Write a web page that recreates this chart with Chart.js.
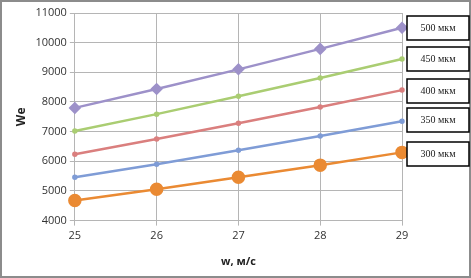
<!DOCTYPE html>
<html>
<head>
<meta charset="utf-8">
<script src="https://cdn.jsdelivr.net/npm/chart.js@4"></script>
<style>
  html, body { margin: 0; padding: 0; background: #fff; }
  #wrap { width: 471px; height: 278px; position: relative; }
</style>
</head>
<body>
<div id="wrap"><canvas id="chart"></canvas></div>
<script>
// скорость, м/с
const speeds = [25, 26, 27, 28, 29];
// We для разных диаметров
const we300 = [4680, 5060, 5460, 5870, 6300];
const we350 = [5460, 5900, 6370, 6850, 7350];
const we400 = [6240, 6750, 7280, 7830, 8400];
const we450 = [7020, 7590, 8190, 8810, 9450];
const we500 = [7800, 8440, 9100, 9790, 10500];
const seriesNames = ["300 мкм", "350 мкм", "400 мкм", "450 мкм", "500 мкм"];
const yTicks = [4000, 5000, 6000, 7000, 8000, 9000, 10000, 11000];

const COLORS = ["#ea8a33", "#7f9cd6", "#da7f7e", "#aacd72", "#9d91c9"];

// рамка вокруг всей диаграммы + подписи серий в прямоугольниках справа
const framePlugin = {
  id: "frame",
  afterDraw(chart) {
    const ctx = chart.ctx;
    ctx.save();
    ctx.strokeStyle = "#8c8c8c";
    ctx.lineWidth = 2;
    ctx.strokeRect(1, 1, chart.width - 2, chart.height - 2);

    const boxes = [
      { name: seriesNames[4], top: 16 },
      { name: seriesNames[3], top: 47 },
      { name: seriesNames[2], top: 79 },
      { name: seriesNames[1], top: 108 },
      { name: seriesNames[0], top: 142 }
    ];
    ctx.lineWidth = 1.5;
    ctx.strokeStyle = "#000";
    ctx.font = "10px 'Liberation Serif'";
    ctx.textAlign = "center";
    ctx.textBaseline = "middle";
    boxes.forEach(b => {
      ctx.fillStyle = "#fff";
      ctx.fillRect(407, b.top, 62, 24);
      ctx.strokeRect(407, b.top, 62, 24);
      ctx.fillStyle = "#222";
      ctx.fillText(b.name, 438, b.top + 12.5);
    });
    ctx.restore();
  }
};

function ds(label, data, color, style, radius, width) {
  return {
    label, data,
    borderColor: color, backgroundColor: color,
    pointStyle: style, pointRadius: radius, pointHoverRadius: radius,
    borderWidth: width, tension: 0
  };
}

new Chart(document.getElementById("chart"), {
  type: "line",
  data: {
    labels: speeds,
    datasets: [
      ds(seriesNames[4], we500, COLORS[4], "rectRot", 4.5, 2.5),
      ds(seriesNames[3], we450, COLORS[3], "circle", 1.5, 2.5),
      ds(seriesNames[2], we400, COLORS[2], "circle", 1.5, 2.5),
      ds(seriesNames[1], we350, COLORS[1], "circle", 1.5, 2.5),
      ds(seriesNames[0], we300, COLORS[0], "circle", 5.5, 2.5)
    ]
  },
  options: {
    responsive: true,
    maintainAspectRatio: false,
    animation: false,
    layout: { padding: { left: 10, right: 69, top: 13, bottom: 6 } },
    plugins: { legend: { display: false }, tooltip: { enabled: false } },
    scales: {
      x: {
        offset: false,
        grid: { color: "#b5b5b5", tickLength: 5 },
        border: { color: "#b5b5b5" },
        ticks: { color: "#333", font: { family: "'Open Sans'", size: 11 }, padding: 4 },
        title: { display: true, text: "w, м/с", color: "#222", font: { family: "'Open Sans'", size: 11, weight: "bold" }, padding: { top: 8 } }
      },
      y: {
        min: 4000, max: 11000,
        afterBuildTicks(axis) { axis.ticks = yTicks.map(v => ({ value: v })); },
        grid: { color: "#b5b5b5", tickLength: 5 },
        border: { color: "#b5b5b5" },
        ticks: { color: "#333", font: { family: "'Open Sans'", size: 11 }, padding: 3, callback: v => String(v) },
        title: { display: true, text: "We", color: "#222", font: { family: "'Open Sans'", size: 12, weight: "bold" }, padding: { bottom: 4 } }
      }
    }
  },
  plugins: [framePlugin]
});
</script>
</body>
</html>
